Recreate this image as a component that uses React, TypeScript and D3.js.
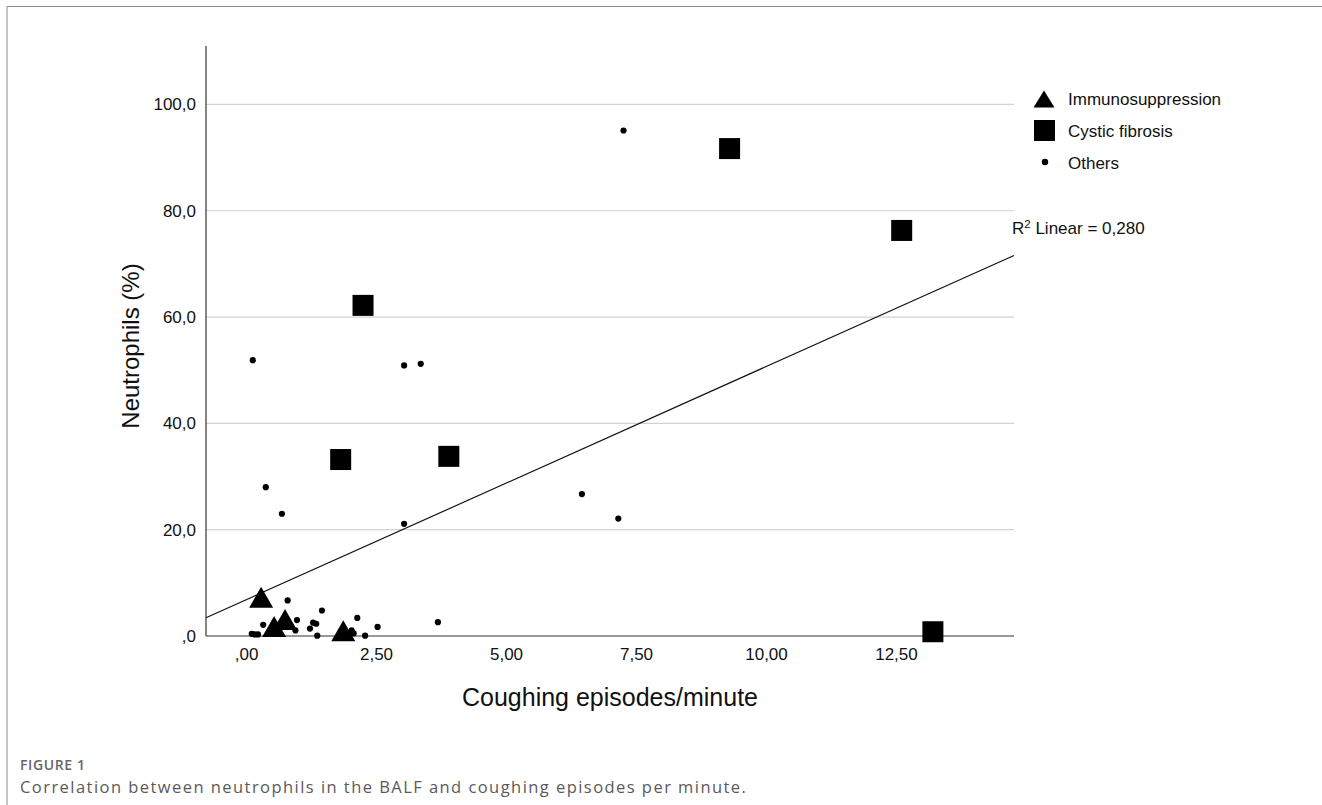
import React from 'react';
import * as d3 from 'd3';

// cystic fibrosis patients (squares)
const cfX = [9.29, 12.6, 2.24, 1.81, 3.89, 13.2];
const cfY = [91.7, 76.3, 62.2, 33.2, 33.8, 0.8];

// immunosuppression (triangles)
const imX = [0.28, 0.74, 0.53, 1.86];
const imY = [7.3, 3.1, 1.8, 1.0];

// others (dots)
const otX = [7.25, 0.12, 3.03, 3.35, 0.37, 0.68, 3.03, 6.45, 7.15, 3.68,
  0.79, 1.45, 0.97, 0.32, 1.28, 1.34, 1.22, 0.94, 2.13, 2.52,
  0.10, 0.16, 0.22, 1.36, 2.28, 2.02, 2.06];
const otY = [95.1, 51.9, 50.9, 51.2, 28.0, 23.0, 21.1, 26.7, 22.1, 2.6,
  6.7, 4.8, 3.0, 2.1, 2.5, 2.3, 1.4, 1.05, 3.4, 1.7,
  0.4, 0.3, 0.3, 0.06, 0.06, 1.05, 0.5];

const xTicks = [0, 2.5, 5, 7.5, 10, 12.5];
const yTicks = [0, 20, 40, 60, 80, 100];

// fit line reported by SPSS
const fitIntercept = 6.86;
const fitSlope = 4.386;
const r2Label = '0,280';

const legendItems = ['Immunosuppression', 'Cystic fibrosis', 'Others'];

const width = 1322;
const height = 805;
const left = 206;
const right = 1014;
const top = 46;
const bottom = 636;

// SPSS style: comma decimal, no leading zero
const fmt = (v: number, d: number) => {
  const s = v.toFixed(d).replace('.', ',');
  return s.startsWith('0,') ? s.slice(1) : s;
};

const tri = (cx: number, cy: number, w: number, h: number) =>
  `M${cx},${cy - h / 2}L${cx + w / 2},${cy + h / 2}L${cx - w / 2},${cy + h / 2}Z`;

export default function App() {
  const x = d3.scaleLinear().domain([-0.78, 14.76]).range([left, right]);
  const y = d3.scaleLinear().domain([0, 111]).range([bottom, top]);
  const font = '"Liberation Sans", Arial, sans-serif';
  const [x0, x1] = x.domain();

  return (
    <svg width={width} height={height} style={{ position: 'absolute', left: 0, top: 0 }}
      fontFamily={font}>
      <rect width={width} height={height} fill="#fff" />
      <path d={`M7,${height}V6.5H${width}`} fill="none" stroke="#8c8c8c" strokeWidth={1} />

      {yTicks.filter(t => t > 0).map(t => (
        <line key={t} x1={left} x2={right} y1={y(t)} y2={y(t)} stroke="#d2d2d2" strokeWidth={1.2} />
      ))}
      <line x1={left} x2={left} y1={top} y2={bottom} stroke="#333" strokeWidth={1.2} />
      <line x1={left} x2={right} y1={bottom} y2={bottom} stroke="#333" strokeWidth={1.2} />

      {yTicks.map(t => (
        <text key={t} x={196} y={y(t)} dy="0.35em" textAnchor="end" fontSize={17} fill="#111">
          {fmt(t, 1)}
        </text>
      ))}
      {xTicks.map(t => (
        <text key={t} x={x(t)} y={660} textAnchor="middle" fontSize={17} fill="#111">
          {fmt(t, 2)}
        </text>
      ))}

      <line x1={x(x0)} y1={y(fitIntercept + fitSlope * x0)} x2={x(x1)} y2={y(fitIntercept + fitSlope * x1)}
        stroke="#111" strokeWidth={1.2} />

      {otX.map((v, i) => (
        <circle key={i} cx={x(v)} cy={y(otY[i])} r={3.1} fill="#000" />
      ))}
      {cfX.map((v, i) => (
        <rect key={i} x={x(v) - 10.5} y={y(cfY[i]) - 10.5} width={21} height={21} fill="#000" />
      ))}
      {imX.map((v, i) => (
        <path key={i} d={tri(x(v), y(imY[i]), 24, 21)} fill="#000" />
      ))}

      <text x={1012} y={234} fontSize={17} fill="#111">
        R<tspan dy={-6} fontSize={11.5}>2</tspan><tspan dy={6}> Linear = {r2Label}</tspan>
      </text>

      <g>
        <path d={tri(1044, 99, 21, 17)} fill="#000" />
        <rect x={1034} y={120} width={21} height={21} fill="#000" />
        <circle cx={1045} cy={162} r={3.2} fill="#000" />
        {legendItems.map((s, i) => (
          <text key={s} x={1068} y={99 + i * 31.8} dy="0.35em" fontSize={17} fill="#111">{s}</text>
        ))}
      </g>

      <text transform={`translate(139,${(top + bottom) / 2 + 5}) rotate(-90)`} textAnchor="middle"
        fontSize={24} fill="#111">Neutrophils (%)</text>
      <text x={(left + right) / 2} y={706} textAnchor="middle" fontSize={25} fill="#111">
        Coughing episodes/minute
      </text>

      <text x={20} y={770} fontSize={14} fill="#666" fontFamily='"Open Sans", sans-serif' fontWeight={600}
        letterSpacing={0.6}>
        FIGURE 1
      </text>
      <text x={20} y={793} fontSize={16.5} fill="#5a5a5a" fontFamily='"Open Sans", sans-serif'
        letterSpacing={1.45}>
        Correlation between neutrophils in the BALF and coughing episodes per minute.
      </text>
    </svg>
  );
}
